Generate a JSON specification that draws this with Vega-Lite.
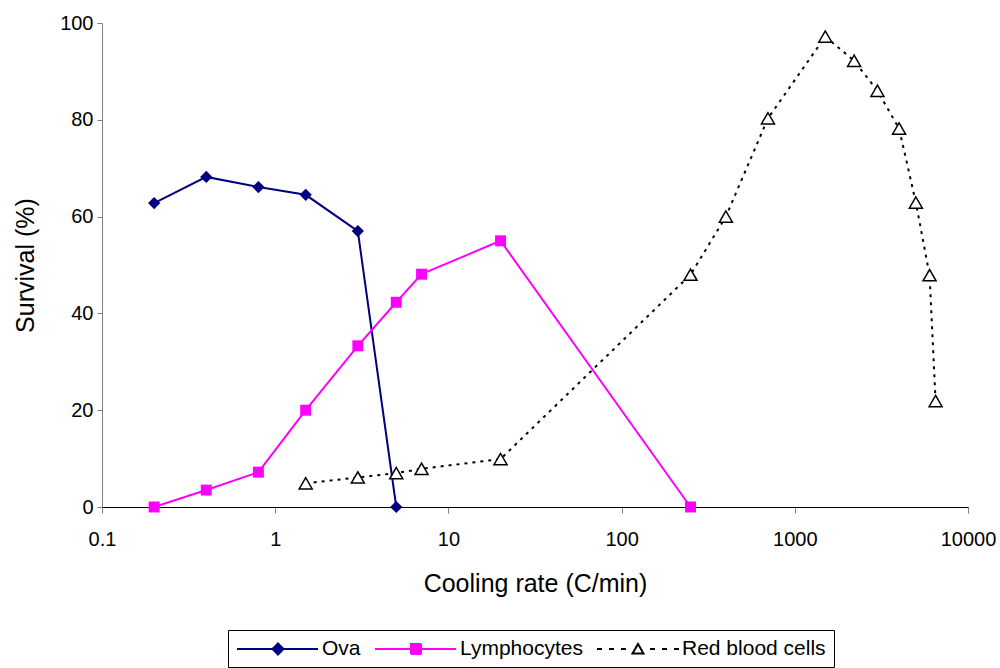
{
  "$schema": "https://vega.github.io/schema/vega-lite/v6.json",
  "width": 866,
  "height": 484,
  "autosize": {"type": "none"},
  "padding": {"left": 102, "top": 23, "right": 32, "bottom": 161},
  "background": "white",
  "config": {"view": {"stroke": null}, "font": "Liberation Sans"},
  "data": {
    "values": [
      {"series": "Ova", "rate": 0.2, "survival": 62.8},
      {"series": "Ova", "rate": 0.4, "survival": 68.2},
      {"series": "Ova", "rate": 0.8, "survival": 66.1},
      {"series": "Ova", "rate": 1.5, "survival": 64.5},
      {"series": "Ova", "rate": 3, "survival": 57},
      {"series": "Ova", "rate": 5, "survival": 0},
      {"series": "Lymphocytes", "rate": 0.2, "survival": 0},
      {"series": "Lymphocytes", "rate": 0.4, "survival": 3.5},
      {"series": "Lymphocytes", "rate": 0.8, "survival": 7.2},
      {"series": "Lymphocytes", "rate": 1.5, "survival": 20},
      {"series": "Lymphocytes", "rate": 3, "survival": 33.3},
      {"series": "Lymphocytes", "rate": 5, "survival": 42.3},
      {"series": "Lymphocytes", "rate": 7, "survival": 48.1},
      {"series": "Lymphocytes", "rate": 20, "survival": 55},
      {"series": "Lymphocytes", "rate": 250, "survival": 0},
      {"series": "Red blood cells", "rate": 1.5, "survival": 4.9},
      {"series": "Red blood cells", "rate": 3, "survival": 6.1},
      {"series": "Red blood cells", "rate": 5, "survival": 7},
      {"series": "Red blood cells", "rate": 7, "survival": 7.9},
      {"series": "Red blood cells", "rate": 20, "survival": 9.9},
      {"series": "Red blood cells", "rate": 250, "survival": 48},
      {"series": "Red blood cells", "rate": 400, "survival": 60},
      {"series": "Red blood cells", "rate": 700, "survival": 80.3},
      {"series": "Red blood cells", "rate": 1500, "survival": 97.2},
      {"series": "Red blood cells", "rate": 2200, "survival": 92.2},
      {"series": "Red blood cells", "rate": 3000, "survival": 86},
      {"series": "Red blood cells", "rate": 4000, "survival": 78.2},
      {"series": "Red blood cells", "rate": 5000, "survival": 62.9},
      {"series": "Red blood cells", "rate": 6000, "survival": 47.9},
      {"series": "Red blood cells", "rate": 6500, "survival": 21.9}
    ]
  },
  "encoding": {
    "x": {
      "field": "rate",
      "type": "quantitative",
      "scale": {"type": "log", "domain": [0.1, 10000], "nice": false},
      "axis": {
        "title": "Cooling rate (C/min)",
        "values": [0.1, 1, 10, 100, 1000, 10000],
        "labelExpr": "'' + datum.value",
        "grid": false,
        "tickSize": 6,
        "tickColor": "#808080",
        "domainColor": "#000000",
        "labelFontSize": 20,
        "labelColor": "#000000",
        "labelPadding": 16,
        "labelFlush": false,
        "labelOverlap": false,
        "titleFontSize": 25,
        "titleFontWeight": "normal",
        "titleColor": "#000000",
        "titleY": 84,
        "titleBaseline": "alphabetic"
      }
    },
    "y": {
      "field": "survival",
      "type": "quantitative",
      "scale": {"domain": [0, 100], "nice": false},
      "axis": {
        "title": "Survival (%)",
        "values": [0, 20, 40, 60, 80, 100],
        "grid": false,
        "tickSize": 5,
        "tickColor": "#808080",
        "domainColor": "#808080",
        "labelFontSize": 20,
        "labelColor": "#000000",
        "labelPadding": 4,
        "labelFlush": false,
        "titleFontSize": 25,
        "titleFontWeight": "normal",
        "titleColor": "#000000",
        "titleX": -69,
        "titleBaseline": "alphabetic"
      }
    }
  },
  "layer": [
    {
      "transform": [{"filter": "datum.series != 'Red blood cells'"}],
      "mark": {"type": "line", "strokeWidth": 2},
      "encoding": {
        "color": {
          "field": "series",
          "type": "nominal",
          "scale": {"domain": ["Ova", "Lymphocytes", "Red blood cells"], "range": ["#000080", "#FF00FF", "#000000"]},
          "legend": {
            "title": null,
            "orient": "none",
            "legendX": 126,
            "legendY": 607,
            "direction": "horizontal",
            "padding": 8,
            "strokeColor": "#000000",
            "fillColor": "#ffffff",
            "labelFontSize": 21,
            "labelFont": "Liberation Sans",
            "labelColor": "#000000",
            "labelOffset": 64,
            "columnPadding": 10,
            "symbolSize": 400,
            "encode": {
              "symbols": {
                "update": {
                  "shape": {"signal": "datum.value == 'Ova' ? 'M-1,0H7.1M3.1,-0.55L3.65,0L3.1,0.55L2.55,0Z' : datum.value == 'Lymphocytes' ? 'M-1,0H7.1M2.6,-0.5H3.6V0.5H2.6Z' : 'M-1,0H-0.5M0.2,0H0.7M1.4,0H1.9M3.1,-0.5L3.65,0.45L2.55,0.45ZM4.3,0H4.8M5.5,0H6M6.7,0H7.2'"},
                  "fill": {"signal": "datum.value == 'Ova' ? '#000080' : datum.value == 'Lymphocytes' ? '#FF00FF' : '#ffffff'"},
                  "strokeWidth": {"value": 2},
                  "strokeDash": {"value": [1, 0]},
                  "size": {"value": 400},
                  "opacity": {"value": 1},
                  "fillOpacity": {"value": 1}
                }
              }
            }
          }
        }
      }
    },
    {
      "transform": [{"filter": "datum.series == 'Red blood cells'"}],
      "mark": {"type": "line", "strokeWidth": 2, "color": "#000000", "strokeDash": [3, 5]},
      "encoding": {}
    },
    {
      "transform": [{"filter": "datum.series == 'Ova'"}],
      "mark": {"type": "point", "shape": "diamond", "filled": true, "color": "#000080", "size": 150, "opacity": 1},
      "encoding": {}
    },
    {
      "transform": [{"filter": "datum.series == 'Lymphocytes'"}],
      "mark": {"type": "point", "shape": "square", "filled": true, "color": "#FF00FF", "size": 120, "opacity": 1},
      "encoding": {}
    },
    {
      "transform": [{"filter": "datum.series == 'Red blood cells'"}],
      "mark": {"type": "point", "shape": "triangle-up", "fill": "#ffffff", "stroke": "#000000", "strokeWidth": 1.5, "size": 170, "opacity": 1},
      "encoding": {}
    }
  ]
}
